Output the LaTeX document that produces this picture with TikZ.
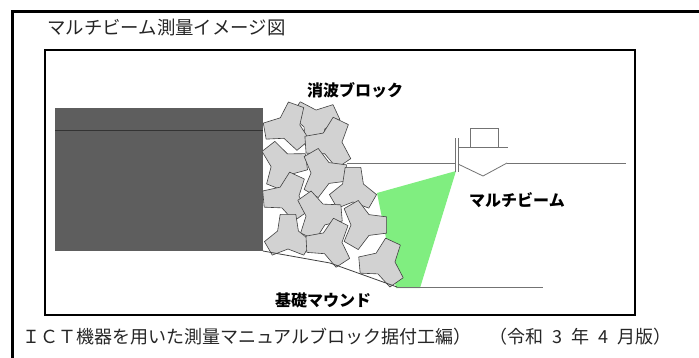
\documentclass[tikz,border=0pt]{standalone}
\usepackage{fontspec}
\newfontfamily\jp{Noto Sans CJK JP}
\definecolor{caisson}{RGB}{94,94,94}
\definecolor{beam}{RGB}{128,238,128}
\definecolor{blockfill}{RGB}{210,210,210}
\newcommand{\gapsp}{\hspace{0.5em}}
\tikzset{
  blockline/.style={fill=blockfill, draw=black!75, line width=0.6pt, line join=round},
  label/.style={font=\jp\bfseries\fontsize{16}{17}\selectfont, inner sep=0pt},
  plain/.style={font=\jp\fontsize{#1}{#1}\selectfont, inner sep=0pt, text=black!85},
  thinline/.style={draw=black!55, line width=0.8pt},
  pics/tetra/.style n args={3}{code={
    \filldraw[blockline] ({#1-19}:#2) -- ({#1+19}:#2) -- ({#1+60}:#3)
      -- ({#1+101}:#2) -- ({#1+139}:#2) -- ({#1+180}:#3)
      -- ({#1+221}:#2) -- ({#1+259}:#2) -- ({#1+300}:#3) -- cycle;
  }}
}
\begin{document}
\begin{tikzpicture}[x=1pt,y=-1pt]
\useasboundingbox (0,0) rectangle (699,357);
\fill[white] (0,0) rectangle (699,357);

% outer frame (top and left edges)
\draw[line width=3pt] (12,365) -- (12,11) -- (710,11);
\node[plain=18.4, anchor=west] (title) at (47,28) {マルチビーム測量イメージ図};

% inner frame
\draw[line width=1.5pt] (45,50) rectangle (635,315);

% caisson
\fill[caisson] (55,108) rectangle (263,251);
\draw[black!80, line width=0.8pt] (55,130) -- (263,130);

% water surface
\coordinate (w1) at (347,163);
\coordinate (w2) at (456,163);
\coordinate (w3) at (507,163);
\coordinate (w4) at (626,163);
\draw[thinline] (w1) -- (w2);
\draw[thinline] (w3) -- (w4);

% sonar swath
\coordinate (sonar) at (456,171);
\fill[beam] (sonar) -- (377,193) -- (396,288) -- (420,288) -- cycle;

% wave-dissipating blocks
\pic at (315,122) {tetra={95}{25}{12}};
\pic at (288,127) {tetra={50}{25}{12}};
\pic at (330,143) {tetra={56}{26}{12}};
\pic at (283,165) {tetra={-8}{25}{12}};
\pic at (323,173) {tetra={0}{25}{12}};
\pic at (353,190) {tetra={30}{24}{12}};
\pic at (287,197) {tetra={55}{25}{12}};
\pic at (318,215) {tetra={-5}{25}{12}};
\pic at (363,225) {tetra={0}{25}{12}};
\pic at (288,237) {tetra={30}{24}{12}};
\pic at (330,243) {tetra={57}{25}{12}};
\pic at (383,263) {tetra={55}{25}{12}};

% mound slope and sea bed
\coordinate (m1) at (263,251);
\coordinate (m2) at (330,263);
\coordinate (m3) at (397,287);
\coordinate (m4) at (543,287);
\draw[black!75, line width=0.8pt] (m1) -- (m2) -- (m3);
\draw[thinline] (m3) -- (m4);

% survey vessel
\draw[thinline] (455,138) -- (455,172);
\draw[thinline] (458,138) -- (458,172);
\draw[thinline] (458,147) -- (508,147);
\draw[thinline] (470,128) rectangle (498,147);
\draw[thinline] (458,164) -- (483,176) -- (507,163);

% labels
\node[label] (lblock) at (355,90) {消波ブロック};
\node[label] (lbeam) at (517,200) {マルチビーム};
\node[label] (lmound) at (323,300) {基礎マウンド};

\node[plain=18, anchor=west] (caption) at (22,337) {ＩＣＴ機器を用いた測量マニュアルブロック据付工編）　（令和\gapsp 3\gapsp 年\gapsp 4\gapsp 月版）};
\end{tikzpicture}
\end{document}
